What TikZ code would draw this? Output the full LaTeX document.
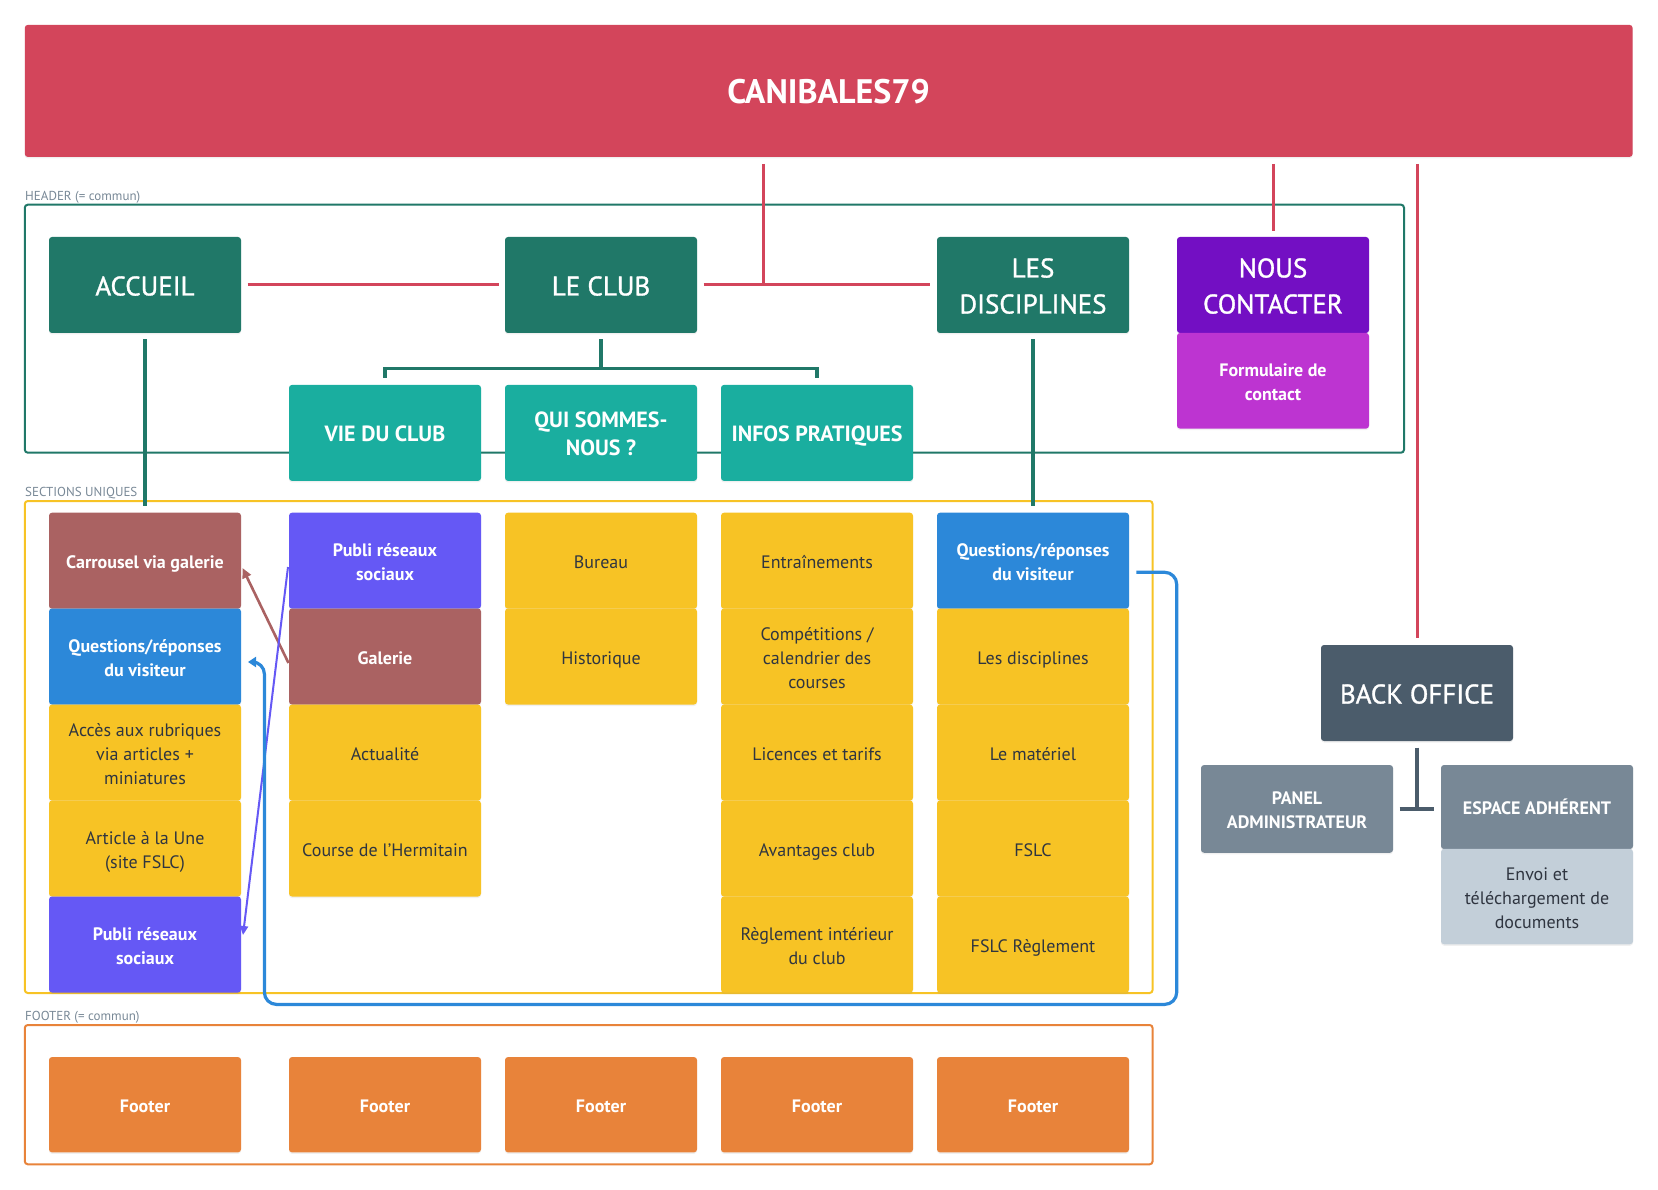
\documentclass[tikz,border=0pt]{standalone}
\usepackage{fontspec}
\setmainfont{PT Sans}
\newfontfamily\medfont{PT Sans}[FakeBold=1.2]
\usetikzlibrary{arrows.meta,calc,shadows}
\definecolor{cred}{HTML}{D3455B}
\definecolor{cgreen}{HTML}{207868}
\definecolor{cteal}{HTML}{1AAE9F}
\definecolor{cpurple}{HTML}{730FC3}
\definecolor{cviolet}{HTML}{BD34D1}
\definecolor{cbrown}{HTML}{AA6262}
\definecolor{cindigo}{HTML}{6558F5}
\definecolor{cblue}{HTML}{2C88D9}
\definecolor{cyellow}{HTML}{F7C325}
\definecolor{corange}{HTML}{E8833A}
\definecolor{cslate}{HTML}{4B5C6B}
\definecolor{cgray}{HTML}{788896}
\definecolor{clight}{HTML}{C3CFD9}
\definecolor{ctext}{HTML}{2F3540}
\newcommand\fsrow{\fontsize{18}{24}\selectfont}
\newcommand\fshead{\medfont\fontsize{27}{36}\selectfont}
\newcommand\fssub{\fontsize{22}{28.5}\selectfont}
\newcommand\fstitle{\fontsize{34}{40}\selectfont}
\newcommand\fslab{\fontsize{13}{15}\selectfont}
% line struts (height + depth = line spacing)
\newcommand\ls{\rule[-4.5pt]{0pt}{24pt}}
\newcommand\lh{\rule[-7.5pt]{0pt}{36pt}}
\newcommand\lsub{\rule[-5.5pt]{0pt}{28.5pt}}
\begin{document}
\begin{tikzpicture}[x=1pt,y=-1pt,
  box/.style={rectangle, rounded corners=3pt, minimum width=192pt, minimum height=96pt,
    align=center, inner sep=0pt, outer sep=0pt,
    drop shadow={shadow xshift=0pt,shadow yshift=-1.5pt,opacity=0.12}},
  hbox/.style={box, fill=#1, text=white, font=\fshead},
  sbox/.style={box, fill=cteal, text=white, font=\fssub\bfseries},
  wbox/.style={box, fill=#1, text=white, font=\fsrow\bfseries},
  ybox/.style={box, fill=cyellow, text=ctext, font=\fsrow},
  fbox/.style={box, fill=corange, text=white, font=\fsrow\bfseries, minimum height=95.3pt},
  lab/.style={anchor=base west, inner sep=0pt, text=cgray, font=\fslab},
  frame/.style={draw=#1, line width=2pt, rounded corners=3pt, inner sep=0pt},
  redl/.style={draw=cred, line width=3pt},
  teall/.style={draw=cgreen, line width=3.2pt},
  slatel/.style={draw=cslate, line width=3.2pt},
  brownl/.style={draw=cbrown, line width=2.6pt, -{Triangle[length=10pt,width=9pt]}},
  indl/.style={draw=cindigo, line width=2pt, -{Triangle[length=9pt,width=8pt]}},
  bluel/.style={draw=cblue, line width=3.2pt, -{Triangle[length=8pt,width=10pt]}}
]
\useasboundingbox (0,0) rectangle (1658,1190);
% frames
\node[frame=cgreen, minimum width=1379.2pt, minimum height=248pt] (hdrbox) at (714.4,328.7) {};
\node[frame=cyellow, minimum width=1127.8pt, minimum height=492pt] (secbox) at (588.7,747) {};
\node[frame=corange, minimum width=1127.8pt, minimum height=139.3pt] (footbox) at (588.7,1094.65) {};
\node[lab] (lhdr) at (25,200.9) {HEADER (= commun)};
\node[lab] (lsec) at (25,496.7) {SECTIONS UNIQUES};
\node[lab] (lfoot) at (25,1020.7) {FOOTER (= commun)};
% title bar
\node[box, fill=cred, text=white, font=\fstitle\bfseries, text height=30pt, text depth=4pt,
  minimum width=1607.8pt, minimum height=132pt] (bar) at (828.7,90.9) {CANIBALES79};
% header
\node[hbox=cgreen] (acc) at (145,285) {\lh ACCUEIL};
\node[hbox=cgreen] (club) at (601,285) {\lh LE CLUB};
\node[hbox=cgreen] (disc) at (1033,285) {\lh LES\\\lh DISCIPLINES};
\node[hbox=cpurple] (nous) at (1273,285) {\lh NOUS\\\lh CONTACTER};
\node[wbox=cviolet, minimum height=95.6pt] (form) at (1273,380.8) {\ls Formulaire de\\\ls contact};
\node[sbox] (vie) at (385,432.9) {\lsub VIE DU CLUB};
\node[sbox] (qui) at (601,432.9) {\lsub QUI SOMMES-\\\lsub NOUS ?};
\node[sbox] (infos) at (817,432.9) {\lsub INFOS PRATIQUES};
% column 1
\node[wbox=cbrown] (c1a) at (145,560.7) {\ls Carrousel via galerie};
\node[wbox=cblue] (c1b) at (145,656.5) {\ls Questions/réponses\\\ls du visiteur};
\node[ybox] (c1c) at (145,752.6) {\ls Accès aux rubriques\\\ls via articles +\\\ls miniatures};
\node[ybox] (c1d) at (145,848.5) {\ls Article à la Une\\\ls (site FSLC)};
\node[wbox=cindigo] (c1e) at (145,944.5) {\ls Publi réseaux\\\ls sociaux};
% column 2
\node[wbox=cindigo] (c2a) at (385,560.7) {\ls Publi réseaux\\\ls sociaux};
\node[wbox=cbrown] (c2b) at (385,656.5) {\ls Galerie};
\node[ybox] (c2c) at (385,752.6) {\ls Actualité};
\node[ybox] (c2d) at (385,848.5) {\ls Course de l’Hermitain};
% column 3
\node[ybox] (c3a) at (601,560.7) {\ls Bureau};
\node[ybox] (c3b) at (601,656.5) {\ls Historique};
% column 4
\node[ybox] (c4a) at (817,560.7) {\ls Entraînements};
\node[ybox] (c4b) at (817,656.5) {\ls Compétitions /\\\ls calendrier des\\\ls courses};
\node[ybox] (c4c) at (817,752.6) {\ls Licences et tarifs};
\node[ybox] (c4d) at (817,848.5) {\ls Avantages club};
\node[ybox] (c4e) at (817,944.5) {\ls Règlement intérieur\\\ls du club};
% column 5
\node[wbox=cblue] (c5a) at (1033,560.7) {\ls Questions/réponses\\\ls du visiteur};
\node[ybox] (c5b) at (1033,656.5) {\ls Les disciplines};
\node[ybox] (c5c) at (1033,752.6) {\ls Le matériel};
\node[ybox] (c5d) at (1033,848.5) {\ls FSLC};
\node[ybox] (c5e) at (1033,944.5) {\ls FSLC Règlement};
% footers
\node[fbox] (f1) at (145,1104.7) {\ls Footer};
\node[fbox] (f2) at (385,1104.7) {\ls Footer};
\node[fbox] (f3) at (601,1104.7) {\ls Footer};
\node[fbox] (f4) at (817,1104.7) {\ls Footer};
\node[fbox] (f5) at (1033,1104.7) {\ls Footer};
% back office
\node[hbox=cslate] (bo) at (1417,693) {\lh BACK OFFICE};
\node[wbox=cgray, minimum height=87.7pt] (panel) at (1297,808.9) {\ls PANEL\\\ls ADMINISTRATEUR};
\node[wbox=cgray, minimum height=84pt] (esp) at (1537,807) {\ls ESPACE ADHÉRENT};
\node[box, fill=clight, text=ctext, font=\fsrow, minimum height=95.3pt] (envoi) at (1537,896.6) {\ls Envoi et\\\ls téléchargement de\\\ls documents};
% red connectors
\coordinate (jt) at (763,285);
\draw[redl] ($(acc.east)+(6.5,0)$) -- ($(club.west)+(-6.5,0)$);
\draw[redl] ($(club.east)+(6.7,0)$) -- ($(disc.west)+(-7,0)$);
\draw[redl] ($(bar.south -| jt)+(0,7)$) -- ($(jt)+(0,1.5)$);
\draw[redl] ($(bar.south -| nous.north)+(0,7)$) -- ($(nous.north)+(0,-6)$);
\draw[redl] ($(bar.south -| bo.north)+(0,7)$) -- ($(bo.north)+(0,-7.4)$);
% teal connectors
\draw[teall] ($(acc.south)+(0,6.5)$) -- ($(c1a.north)+(0,-6.7)$);
\draw[teall] ($(club.south)+(0,6.5)$) -- ($(club.south |- vie.north)+(0,-16.5)$);
\draw[teall] ($(vie.north)+(0,-7.3)$) -- ($(vie.north)+(0,-16.5)$) -- ($(infos.north)+(0,-16.5)$) -- ($(infos.north)+(0,-7.3)$);
\draw[teall] ($(disc.south)+(0,6.5)$) -- ($(c5a.north)+(0,-6.7)$);
% back office connectors
\draw[slatel] ($(bo.south)+(0,6.6)$) -- (bo.south |- panel.east);
\draw[slatel] ($(panel.east)+(6.6,0)$) -- ($(esp.west |- panel.east)+(-6.7,0)$);
% arrows
\draw[brownl] ($(c2b.west)+(-0.5,6.5)$) -- ($(c1a.east)+(1.5,7.3)$);
\draw[indl] ($(c2a.west)+(-1,6.3)$) -- ($(c1e.east)+(2,-9.5)$);
\coordinate (bturn) at (1176.7,1004.4);
\draw[bluel, rounded corners=12pt] ($(c5a.east)+(7.4,11.6)$) -| (bturn) -| ($(c1b.east)+(23.4,5.5)$) [rounded corners=5pt] -- ($(c1b.east)+(7,5.5)$);
\end{tikzpicture}
\end{document}
